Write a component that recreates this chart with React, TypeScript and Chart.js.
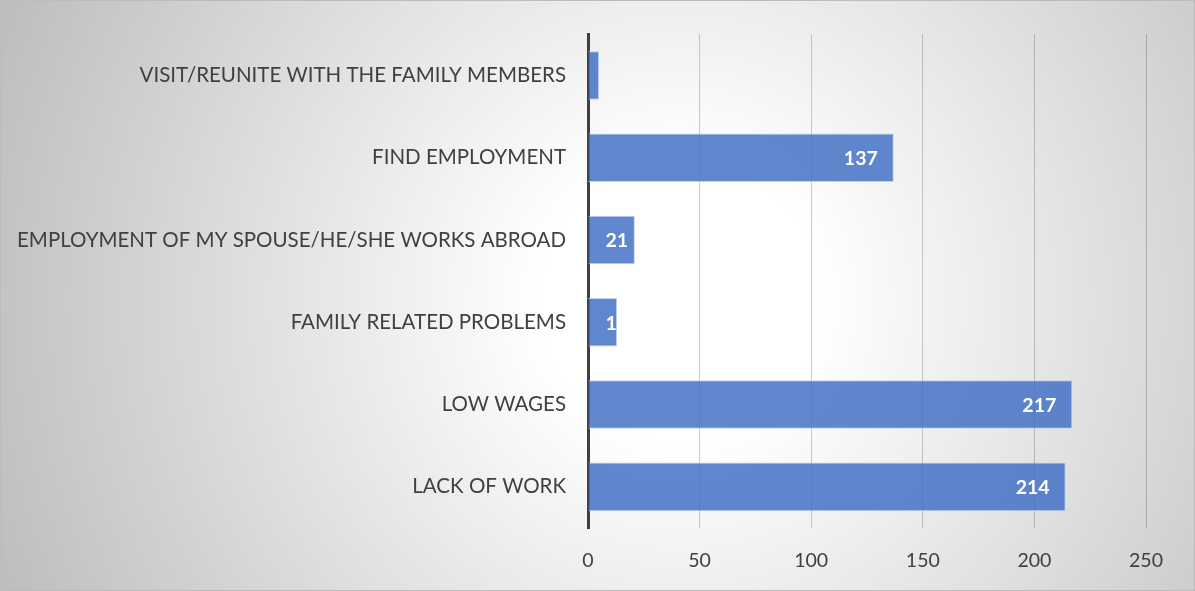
import React, { useEffect, useRef } from "react";
import { Chart, registerables } from "chart.js";

Chart.register(...registerables);

const categories: string[] = [
  "VISIT/REUNITE WITH THE FAMILY MEMBERS",
  "FIND EMPLOYMENT",
  "EMPLOYMENT OF MY SPOUSE/HE/SHE WORKS ABROAD",
  "FAMILY RELATED PROBLEMS",
  "LOW WAGES",
  "LACK OF WORK",
];
const values: number[] = [5, 137, 21, 13, 217, 214];
const xTicks: number[] = [0, 50, 100, 150, 200, 250];

const FAMILY = "Lato";
const W = 1195;
const H = 591;

function fitSize(texts: string[], target: number, weight: string): number {
  const c = document.createElement("canvas");
  const ctx = c.getContext("2d")!;
  ctx.font = `${weight} 100px ${FAMILY}`;
  let w = 0;
  texts.forEach((t) => (w += ctx.measureText(t).width));
  return (100 * target) / w;
}

export default function App() {
  const ref = useRef<HTMLCanvasElement | null>(null);

  useEffect(() => {
    const canvas = ref.current;
    if (!canvas) return;
    const catSize = fitSize(categories, 1723, "normal");
    const tickSize = fitSize(["250"], 34, "normal");
    const lblSize = fitSize(["137"], 34, "bold");

    const bgPlugin = {
      id: "bg",
      beforeDraw(chart: any) {
        const ctx = chart.ctx;
        ctx.save();
        const g = ctx.createRadialGradient(680, 300, 140, 680, 300, 730);
        g.addColorStop(0, "#ffffff");
        g.addColorStop(1, "#bebebe");
        ctx.fillStyle = g;
        ctx.fillRect(0, 0, W, H);
        ctx.strokeStyle = "#bcbcbc";
        ctx.lineWidth = 1;
        ctx.strokeRect(0.5, 0.5, W - 1, H - 1);
        ctx.restore();
      },
    };

    const labelPlugin = {
      id: "barLabels",
      afterDatasetsDraw(chart: any) {
        const ctx = chart.ctx;
        const meta = chart.getDatasetMeta(0);
        ctx.save();
        ctx.font = `bold ${lblSize}px ${FAMILY}`;
        ctx.fillStyle = "#ffffff";
        ctx.textBaseline = "middle";
        ctx.textAlign = "left";
        meta.data.forEach((bar: any, i: number) => {
          const p = bar.getProps(["x", "y", "base", "height"], true);
          const text = String(values[i]);
          const w = ctx.measureText(text).width;
          const tx = Math.max(p.x - 16 - w, p.base + 17);
          ctx.save();
          ctx.beginPath();
          ctx.rect(p.base, p.y - p.height / 2, p.x - p.base, p.height);
          ctx.clip();
          ctx.fillText(text, tx, p.y + 1);
          ctx.restore();
        });
        ctx.restore();
      },
    };

    const chart = new Chart(canvas, {
      type: "bar",
      data: {
        labels: categories,
        datasets: [
          {
            data: values,
            backgroundColor: "rgba(68,114,196,0.85)",
            borderColor: "rgba(190,208,238,0.95)",
            borderWidth: 1,
            barPercentage: 0.59,
            categoryPercentage: 1,
          },
        ],
      },
      options: {
        indexAxis: "y",
        responsive: false,
        animation: false,
        devicePixelRatio: 1,
        layout: { padding: { top: 31, right: 49, left: 0, bottom: 0 } },
        plugins: {
          legend: { display: false },
          tooltip: { enabled: false },
        },
        scales: {
          x: {
            min: 0,
            max: 250,
            afterBuildTicks(scale: any) {
              scale.ticks = xTicks.map((v) => ({ value: v }));
            },
            afterFit(scale: any) {
              scale.height = H - 528;
            },
            grid: {
              color: "rgba(0,0,0,0.2)",
              lineWidth: 1,
              drawTicks: false,
            },
            border: { display: false },
            ticks: {
              color: "#404040",
              font: { family: FAMILY, size: tickSize },
              padding: 21,
            },
          },
          y: {
            afterFit(scale: any) {
              scale.width = 588;
            },
            grid: { display: false, drawTicks: false },
            border: { display: true, color: "#404040", width: 3 },
            ticks: {
              color: "#404040",
              font: { family: FAMILY, size: catSize },
              padding: 22,
            },
          },
        },
      },
      plugins: [bgPlugin, labelPlugin],
    } as any);

    return () => chart.destroy();
  }, []);

  return (
    <div style={{ position: "fixed", left: 0, top: 0, width: W, height: H }}>
      <canvas ref={ref} width={W} height={H} style={{ display: "block" }} />
    </div>
  );
}
